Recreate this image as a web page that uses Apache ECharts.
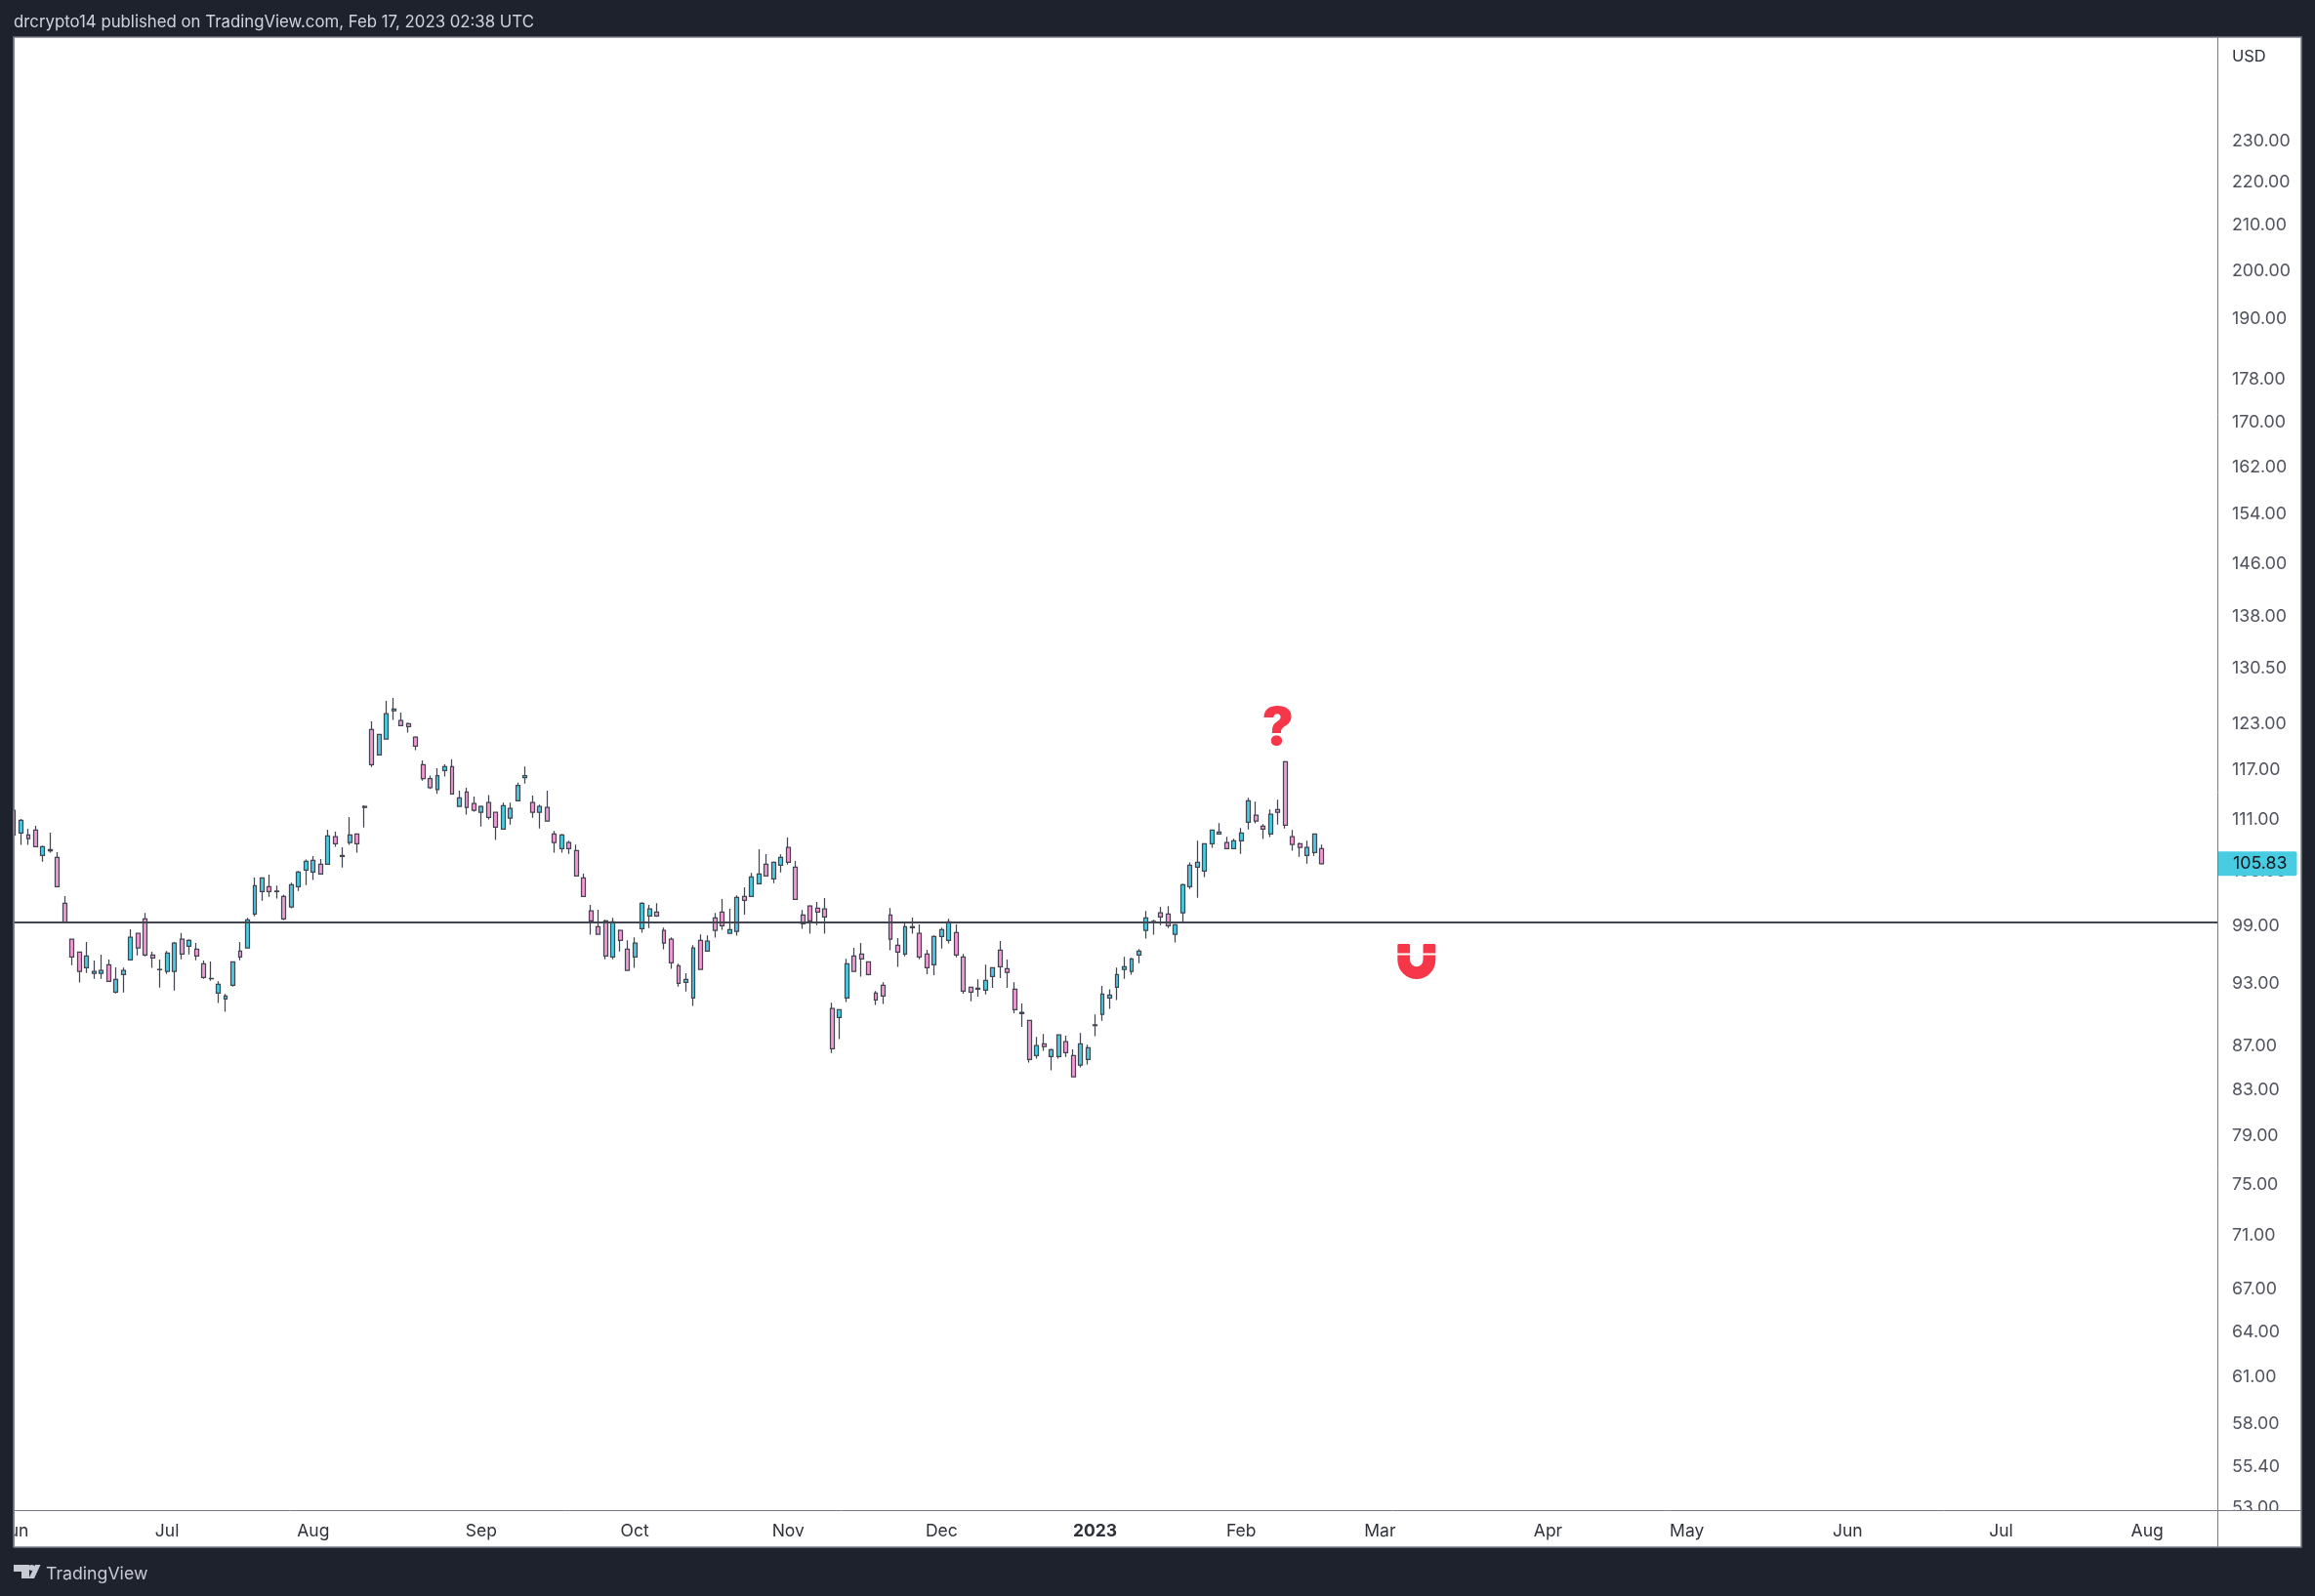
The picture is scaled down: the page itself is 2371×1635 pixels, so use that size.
<!DOCTYPE html>
<html>
<head>
<meta charset="utf-8">
<title>TradingView chart</title>
<script src="https://cdn.jsdelivr.net/npm/echarts@6/dist/echarts.min.js"></script>
<style>
  html, body { margin: 0; padding: 0; background: #1e222d; }
  #chart { width: 2371px; height: 1635px; }
</style>
</head>
<body>
<div id="chart"></div>
<script>
// candles, one column per array, daily bars from Jun 1 2022 to Feb 16 2023
const opens = [
  112.06, 109.38, 109.15, 109.72, 106.77, 107.45, 106.54, 101.43, 97.58, 96.25, 94.65, 94.06, 94.06, 94.95, 92.19, 93.96, 95.44, 98.19, 99.74, 95.94,
  94.46, 94.26, 94.26, 97.58, 96.86, 96.55, 95.05, 93.56, 92.10, 91.53, 92.87, 96.35, 96.66, 100.27, 102.70, 103.25, 102.77, 102.17, 101.01, 103.25,
  105.11, 104.89, 105.77, 105.77, 108.93, 106.77, 108.25, 109.27, 112.53, 122.23, 118.95, 120.97, 124.70, 123.40, 123.01, 121.22, 117.70, 115.94, 114.60, 116.97,
  117.46, 112.53, 114.29, 112.88, 111.82, 113.00, 111.82, 109.84, 111.12, 113.23, 116.08, 113.00, 111.82, 112.41, 109.27, 107.56, 108.25, 107.34, 104.23, 100.59,
  98.91, 99.53, 95.74, 98.50, 96.55, 95.74, 98.70, 100.06, 100.48, 98.50, 97.58, 94.85, 93.17, 91.62, 97.47, 96.35, 99.85, 100.48, 98.19, 98.40,
  102.17, 102.17, 103.57, 105.77, 104.12, 105.66, 107.68, 105.44, 100.16, 101.12, 100.90, 100.80, 90.58, 89.72, 91.62, 95.84, 96.04, 95.24, 92.10, 92.87,
  100.16, 96.96, 96.04, 98.91, 98.19, 96.04, 94.95, 97.88, 97.47, 98.29, 95.74, 92.68, 92.58, 92.38, 93.76, 96.45, 94.55, 92.48, 90.20, 89.44,
  86.12, 87.22, 86.03, 86.03, 87.41, 86.12, 85.24, 85.77, 89.00, 90.01, 91.62, 92.68, 94.46, 94.26, 95.94, 98.50, 99.32, 100.38, 100.27, 98.09,
  100.38, 103.25, 105.44, 105.00, 108.13, 109.27, 108.25, 107.56, 108.47, 110.65, 111.47, 110.18, 109.27, 112.17, 118.07, 108.93, 108.13, 106.77, 107.11, 107.56
];
const closes = [
  109.15, 110.88, 108.70, 107.79, 107.79, 107.30, 103.25, 99.36, 95.74, 94.26, 95.84, 94.26, 94.36, 93.27, 93.46, 94.36, 97.78, 96.66, 95.94, 95.64,
  94.43, 96.15, 97.17, 96.04, 97.47, 95.84, 93.66, 93.53, 92.97, 91.81, 95.24, 95.74, 99.64, 103.36, 104.23, 102.70, 102.70, 99.74, 103.47, 104.89,
  106.09, 106.20, 104.67, 109.04, 108.13, 106.65, 109.15, 108.13, 112.41, 117.70, 121.60, 124.31, 124.96, 122.75, 122.62, 120.08, 115.94, 114.84, 116.32, 117.46,
  114.05, 113.58, 112.41, 112.06, 112.53, 111.23, 110.06, 112.64, 112.29, 115.10, 116.32, 111.82, 112.53, 110.77, 108.25, 109.15, 107.56, 104.45, 102.17, 99.53,
  98.09, 95.84, 99.43, 97.47, 94.36, 97.17, 101.43, 100.80, 100.06, 97.17, 95.14, 93.07, 93.46, 96.66, 94.46, 97.37, 98.50, 99.01, 98.60, 102.07,
  101.75, 104.34, 104.67, 104.45, 105.98, 106.54, 105.98, 101.85, 99.21, 99.53, 100.48, 99.95, 86.76, 90.48, 95.05, 94.26, 95.54, 93.96, 91.43, 91.81,
  97.58, 96.25, 98.91, 98.80, 95.74, 94.65, 97.88, 98.60, 99.43, 95.94, 92.29, 92.19, 92.48, 93.37, 94.65, 94.75, 94.16, 90.48, 90.10, 85.77,
  87.04, 86.95, 86.67, 88.05, 86.39, 84.17, 87.22, 86.85, 88.94, 92.00, 91.91, 93.96, 94.75, 95.54, 96.35, 99.85, 99.46, 99.95, 99.01, 99.11,
  103.47, 105.66, 105.98, 108.13, 109.72, 109.49, 107.56, 108.47, 109.38, 113.23, 110.77, 109.84, 111.59, 111.82, 110.30, 108.02, 107.68, 107.68, 109.27, 105.83
];
const lows = [
  109.15, 107.98, 107.98, 107.79, 106.06, 107.08, 103.25, 99.36, 94.91, 93.14, 94.12, 93.53, 93.53, 93.27, 92.06, 92.16, 95.44, 95.90, 95.80, 94.62,
  92.64, 94.02, 92.35, 95.51, 96.01, 95.41, 93.53, 93.33, 91.12, 90.26, 92.74, 95.41, 96.66, 100.02, 101.71, 102.14, 101.93, 99.60, 100.87, 102.77,
  103.43, 103.98, 104.67, 105.77, 107.75, 105.40, 107.98, 107.08, 110.03, 117.42, 118.95, 120.97, 123.49, 122.75, 121.81, 119.54, 115.70, 114.68, 114.08, 116.20,
  114.05, 112.53, 111.55, 111.91, 110.14, 110.96, 108.55, 109.84, 110.37, 113.23, 115.34, 111.19, 109.91, 110.77, 107.08, 107.08, 106.96, 104.45, 102.17, 98.05,
  98.09, 95.51, 95.51, 96.31, 94.36, 94.62, 98.26, 98.77, 99.95, 96.52, 94.52, 92.74, 92.26, 90.83, 94.46, 96.35, 97.75, 98.57, 98.19, 97.95,
  100.20, 102.17, 103.57, 104.45, 103.64, 104.85, 105.73, 101.85, 98.67, 98.16, 99.08, 98.16, 86.36, 87.65, 91.21, 94.26, 93.73, 93.86, 90.93, 91.02,
  96.42, 94.72, 95.80, 98.16, 95.51, 93.99, 93.89, 96.62, 97.13, 95.71, 92.04, 91.28, 91.75, 91.97, 92.61, 93.60, 92.61, 90.13, 88.82, 85.47,
  85.83, 86.55, 84.76, 85.83, 86.00, 84.17, 85.03, 85.29, 87.93, 89.40, 90.55, 91.40, 93.53, 93.93, 95.11, 97.65, 98.05, 99.08, 98.77, 97.24,
  99.43, 102.99, 102.03, 104.31, 107.64, 109.27, 107.56, 107.56, 106.96, 109.80, 110.50, 108.66, 108.89, 110.37, 109.91, 107.30, 106.61, 105.84, 106.73, 105.73
];
const highs = [
  112.06, 111.04, 109.87, 110.22, 107.90, 109.42, 107.15, 102.21, 97.58, 96.25, 97.30, 95.38, 95.97, 95.47, 94.68, 94.65, 98.63, 98.19, 100.38, 96.28,
  95.47, 96.35, 97.30, 98.23, 97.58, 97.20, 95.38, 95.28, 93.27, 92.00, 95.28, 97.30, 99.85, 104.27, 104.23, 104.60, 103.36, 102.38, 103.68, 105.00,
  106.31, 106.69, 106.35, 109.76, 109.53, 107.71, 111.27, 109.27, 112.68, 123.31, 121.60, 126.05, 126.44, 124.48, 123.14, 121.34, 118.24, 116.32, 117.26, 117.74,
  118.36, 114.46, 114.82, 113.74, 112.64, 113.93, 111.82, 113.00, 113.00, 115.46, 117.46, 113.85, 112.76, 114.46, 109.61, 109.27, 108.47, 108.02, 104.71, 101.26,
  100.73, 99.64, 99.85, 98.60, 97.47, 97.78, 101.54, 101.26, 101.43, 98.80, 97.78, 95.05, 94.09, 96.96, 98.09, 97.99, 100.38, 101.89, 100.83, 102.28,
  103.17, 104.78, 107.49, 106.92, 106.09, 106.88, 108.85, 106.13, 100.69, 101.22, 101.57, 102.00, 91.15, 90.48, 95.54, 96.69, 97.20, 95.24, 92.29, 93.17,
  100.90, 97.71, 99.32, 99.88, 99.15, 96.49, 97.99, 98.80, 99.74, 99.15, 96.04, 92.68, 93.46, 94.95, 94.65, 97.40, 95.47, 93.17, 91.08, 89.44,
  87.87, 88.14, 86.76, 88.05, 87.99, 86.70, 88.24, 87.13, 90.01, 92.81, 92.48, 94.65, 95.74, 95.64, 96.55, 100.59, 99.64, 101.04, 101.12, 99.21,
  103.57, 105.98, 108.47, 108.13, 109.72, 110.53, 108.93, 108.70, 109.95, 113.58, 113.11, 110.42, 112.17, 113.35, 118.19, 109.72, 108.25, 108.47, 109.27, 108.02
];

// bar index -> month label on the time axis
const monthBars = [0, 21, 41, 64, 85, 106, 127, 148, 168, 187, 210, 229, 251, 272, 292];
const monthNames = ['Jun', 'Jul', 'Aug', 'Sep', 'Oct', 'Nov', 'Dec', '2023', 'Feb', 'Mar', 'Apr', 'May', 'Jun', 'Jul', 'Aug'];
const totalBars = 303;

const priceTicks = [230, 220, 210, 200, 190, 178, 170, 162, 154, 146, 138, 130.5, 123, 117, 111, 105, 99, 93, 87, 83, 79, 75, 71, 67, 64, 61, 58, 55.4, 53];
const priceMin = 52.86;
const priceMax = 257.1;
const supportLevel = 99.35;
const lastPrice = 105.83;
const questionAt = [173, 122.3];
const magnetAt = [192, 95.27];

const INK = '#434651';
const CYAN = '#48cce2';
const PINK = '#f79bd8';
const RED = '#f63649';
const GREY = '#787b86';
const DARK = '#1e222d';
const FONT = 'Inter';

const categories = [];
for (let i = 0; i < totalBars; i++) {
  const k = monthBars.indexOf(i);
  categories.push(k >= 0 ? monthNames[k] : '');
}

const candles = opens.map((o, i) => [o, closes[i], lows[i], highs[i]]);

const magnetPath = 'path://M4 0H34Q38 0 38 4V28H0V4Q0 0 4 0ZM82 0H112Q116 0 116 4V28H78V4Q78 0 82 0ZM0 34H38V48A20 20 0 0 0 78 48V34H116V48A58 58 0 0 1 0 48Z';

const chart = echarts.init(document.getElementById('chart'), null, { renderer: 'canvas' });

chart.setOption({
  animation: false,
  backgroundColor: DARK,
  // outerBoundsMode none: the half hidden Jun label must not push the grid inwards
  grid: { left: 14, right: 97, top: 38, bottom: 88, containLabel: false, outerBoundsMode: 'none' },
  xAxis: {
    type: 'category',
    data: categories,
    boundaryGap: false,
    axisLine: { show: true, lineStyle: { color: GREY, width: 1 } },
    axisTick: { show: false },
    splitLine: { show: false },
    axisLabel: {
      interval: 0,
      margin: 13,
      fontFamily: FONT,
      fontSize: 17.5,
      color: '#2e313a',
      hideOverlap: false,
      formatter: (v) => (v === '2023' ? '{b|2023}' : v),
      rich: { b: { fontFamily: FONT, fontSize: 17.5, fontWeight: 700, color: '#2e313a' } }
    }
  },
  yAxis: {
    type: 'log',
    logBase: 10,
    position: 'right',
    min: priceMin,
    max: priceMax,
    axisLine: { show: false },
    axisTick: { show: false },
    splitLine: { show: false },
    minorTick: { show: false },
    axisLabel: {
      customValues: priceTicks,
      margin: 12,
      align: 'left',
      padding: [6, 0, 0, 0],
      fontFamily: FONT,
      fontSize: 17.8,
      color: '#50535e',
      formatter: (v) => Number(v).toFixed(2)
    }
  },
  series: [{
    type: 'candlestick',
    data: candles,
    barWidth: 4.4,
    clip: true,
    itemStyle: {
      color: CYAN,
      color0: PINK,
      borderColor: INK,
      borderColor0: INK,
      borderWidth: 1.25
    },
    markLine: {
      silent: true,
      symbol: 'none',
      animation: false,
      data: [
        [
          { coord: [0, supportLevel], lineStyle: { color: INK, width: 2, type: 'solid' }, label: { show: false } },
          { coord: [totalBars - 1, supportLevel] }
        ],
        [
          {
            coord: [0, lastPrice],
            lineStyle: { color: 'rgba(0,0,0,0)', width: 1 },
            label: {
              show: true,
              position: 'end',
              distance: 0,
              offset: [-3, 0],
              formatter: lastPrice.toFixed(2),
              fontFamily: FONT,
              fontSize: 17.8,
              color: '#131722',
              backgroundColor: CYAN,
              padding: [3.5, 10, 3.5, 16],
              borderRadius: [0, 2, 2, 0]
            }
          },
          { coord: [totalBars - 1, lastPrice] }
        ]
      ]
    },
    markPoint: {
      silent: true,
      animation: false,
      data: [
        {
          coord: questionAt,
          symbol: 'circle',
          symbolSize: 1,
          itemStyle: { color: 'transparent', borderWidth: 0 },
          label: {
            show: true,
            position: 'inside',
            formatter: '?',
            fontFamily: FONT,
            fontWeight: 900,
            fontSize: 54,
            color: RED
          }
        },
        {
          coord: magnetAt,
          symbol: magnetPath,
          symbolSize: [39, 36],
          itemStyle: { color: RED, borderWidth: 0 },
          label: { show: false }
        }
      ]
    }
  }],
  graphic: [
    // white sheet behind the panes
    { type: 'rect', z: -1, silent: true, shape: { x: 14, y: 38, width: 2343, height: 1547 }, style: { fill: '#ffffff', stroke: GREY, lineWidth: 1.5 } },
    // hide what spills out of the panes: left of the edge, the foot of 53.00
    { type: 'rect', z: 100, silent: true, shape: { x: 0, y: 38, width: 13.5, height: 1551 }, style: { fill: DARK } },
    { type: 'rect', z: 100, silent: true, shape: { x: 2272, y: 1548, width: 84, height: 36 }, style: { fill: '#ffffff' } },
    { type: 'rect', z: 100, silent: true, shape: { x: 2272, y: 942, width: 4, height: 6 }, style: { fill: '#ffffff' } },
    // pane separators
    { type: 'line', z: 101, silent: true, shape: { x1: 14, y1: 38, x2: 14, y2: 1585 }, style: { stroke: GREY, lineWidth: 1.5 } },
    { type: 'line', z: 101, silent: true, shape: { x1: 2271.5, y1: 38, x2: 2271.5, y2: 1585 }, style: { stroke: GREY, lineWidth: 1 } },
    { type: 'line', z: 101, silent: true, shape: { x1: 2271, y1: 1547.5, x2: 2357, y2: 1547.5 }, style: { stroke: GREY, lineWidth: 1 } },
    { type: 'text', z: 101, silent: true, style: { x: 2286, y: 58, text: 'USD', fontFamily: FONT, fontSize: 16.5, fill: '#2e313a', verticalAlign: 'middle' } },
    // header and footer
    { type: 'text', z: 101, silent: true, style: { x: 14, y: 23, text: 'drcrypto14 published on TradingView.com, Feb 17, 2023 02:38 UTC', fontFamily: FONT, fontSize: 16.8, fill: '#d1d4dc', verticalAlign: 'middle' } },
    { type: 'text', z: 101, silent: true, style: { x: 47, y: 1613, text: 'TradingView', fontFamily: FONT, fontSize: 17.7, fill: '#c8cad3', verticalAlign: 'middle' } },
    { type: 'polygon', z: 101, silent: true, shape: { points: [[14, 1603], [30, 1603], [30, 1617], [22, 1617], [22, 1610], [14, 1610]] }, style: { fill: '#c8cad3' } },
    { type: 'circle', z: 101, silent: true, shape: { cx: 32.5, cy: 1606, r: 3 }, style: { fill: '#c8cad3' } },
    { type: 'polygon', z: 101, silent: true, shape: { points: [[36, 1603], [41.5, 1603], [35, 1617], [29.5, 1617]] }, style: { fill: '#c8cad3' } }
  ]
});
</script>
</body>
</html>
